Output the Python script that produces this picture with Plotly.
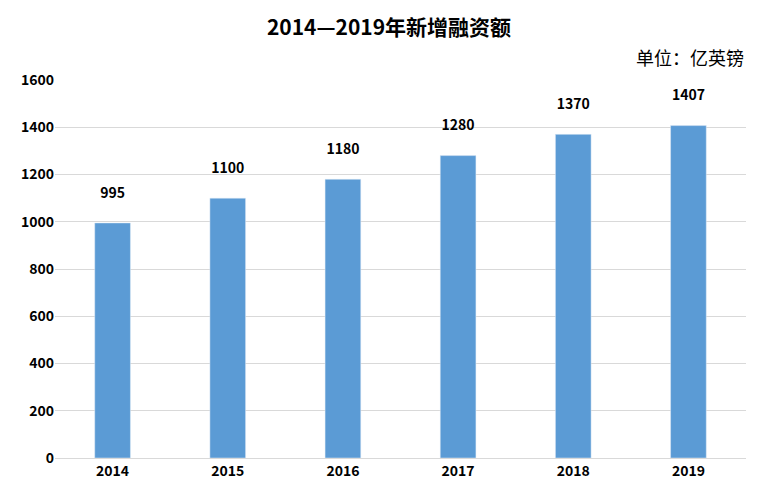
import plotly.graph_objects as go

years = ["2014", "2015", "2016", "2017", "2018", "2019"]
amounts = [995, 1100, 1180, 1280, 1370, 1407]
y_ticks = [0, 200, 400, 600, 800, 1000, 1200, 1400, 1600]

font = "Noto Sans CJK SC, Liberation Sans, sans-serif"

fig = go.Figure(go.Bar(
    x=years, y=amounts,
    marker_color="#5B9BD5",
    text=[f"<b>{v}</b>" for v in amounts],
    textposition="outside",
    textfont=dict(size=14, color="#000000", family=font),
    cliponaxis=False,
))

# invisible offset labels are not needed; push text up with an annotation-free approach
fig.update_traces(texttemplate="<b>%{y}</b><br> ", text=None)

fig.update_layout(
    width=762, height=484,
    margin=dict(l=47, r=24, t=72, b=28),
    plot_bgcolor="white", paper_bgcolor="white",
    bargap=0.69,
    showlegend=False,
    font=dict(family=font, size=13, color="#000000"),
    title=dict(text="<b>2014—2019年新增融资额</b>", x=0.5, xanchor="center",
               y=0.96, yanchor="middle", font=dict(size=21)),
    annotations=[dict(text="单位：亿英镑", xref="paper", yref="paper",
                      x=1.0, y=1.0, xanchor="right", yanchor="bottom", yshift=8,
                      showarrow=False, font=dict(size=18))],
)
fig.update_xaxes(showline=True, linecolor="#d9d9d9", ticks="",
                 tickfont=dict(size=14), tickprefix="<b>", ticksuffix="</b>")
fig.update_yaxes(range=[0, 1600], tickvals=y_ticks, showgrid=True, gridcolor="#d9d9d9",
                 zeroline=False, tickfont=dict(size=14),
                 ticktext=[f"<b>{v}</b>" for v in y_ticks], ticks="")

fig.write_html("out.html")
